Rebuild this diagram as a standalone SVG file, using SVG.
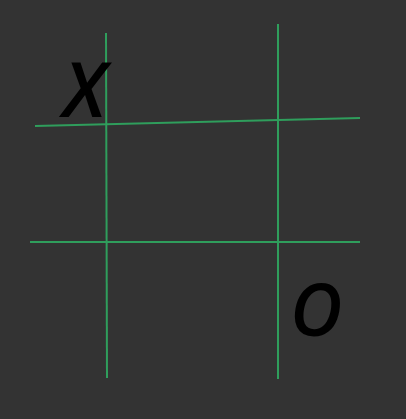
<svg xmlns="http://www.w3.org/2000/svg" width="406" height="419" viewBox="0 0 406 419">
<style>
.g{stroke:#2f9e5c;stroke-width:2;fill:none;stroke-linecap:butt}
.t{font-family:"Open Sans","Liberation Sans",Arial,sans-serif;font-style:italic;font-weight:600;fill:#000}
</style>
<rect width="406" height="419" fill="#333333"/>
<g id="connectors">
<line class="g" x1="106" y1="33" x2="107" y2="378"/>
<line class="g" x1="278" y1="24" x2="278" y2="379"/>
<line class="g" x1="35" y1="126" x2="360" y2="118"/>
<line class="g" x1="30" y1="242" x2="360" y2="242"/>
</g>
<g id="x-mark"><text class="t" x="63" y="117" font-size="76">X</text></g>
<g id="o-mark"><text class="t" x="290" y="336" font-size="72">O</text></g>
</svg>
